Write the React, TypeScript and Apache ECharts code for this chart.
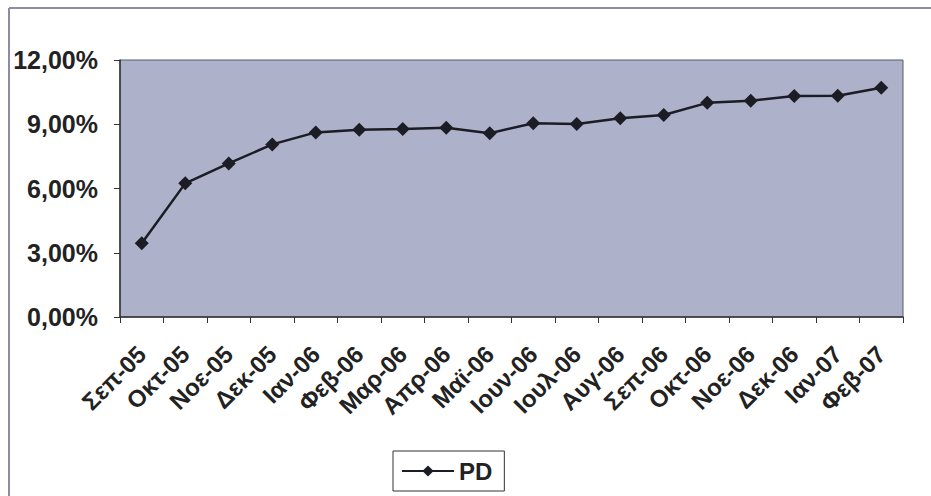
import React, { useEffect, useRef } from "react";
import * as echarts from "echarts";

const categories = [
  "Σεπ-05", "Οκτ-05", "Νοε-05", "Δεκ-05", "Ιαν-06", "Φεβ-06", "Μαρ-06", "Απρ-06", "Μαϊ-06",
  "Ιουν-06", "Ιουλ-06", "Αυγ-06", "Σεπ-06", "Οκτ-06", "Νοε-06", "Δεκ-06", "Ιαν-07", "Φεβ-07",
];
const pdValues = [
  3.44, 6.24, 7.17, 8.06, 8.62, 8.74, 8.78, 8.84, 8.58,
  9.05, 9.01, 9.28, 9.43, 10.0, 10.1, 10.32, 10.33, 10.7,
];
const seriesName = "PD";
const yMin = 0;
const yMax = 12;
const yInterval = 3;

const FONT = "'Liberation Sans', Arial, sans-serif";

export default function App() {
  const ref = useRef<HTMLDivElement>(null);
  useEffect(() => {
    if (!ref.current) return;
    const chart = echarts.init(ref.current, null, { renderer: "svg" });
    chart.setOption({
      animation: false,
      backgroundColor: "#ffffff",
      graphic: [
        { type: "line", shape: { x1: 9, y1: 8, x2: 931, y2: 8 }, style: { stroke: "#8e8ba6", lineWidth: 2 } },
        { type: "line", shape: { x1: 9, y1: 8, x2: 9, y2: 496 }, style: { stroke: "#8e8ba6", lineWidth: 2 } },
      ],
      grid: {
        left: 120,
        top: 60,
        right: 28,
        bottom: 179,
        show: true,
        backgroundColor: "#adb1c9",
        borderColor: "#5a5a6a",
        borderWidth: 1,
        containLabel: false,
      },
      legend: {
        show: true,
        left: 393,
        top: 451,
        orient: "horizontal",
        padding: [8, 12, 8, 8],
        borderColor: "#333333",
        borderWidth: 1,
        itemWidth: 52,
        itemHeight: 14,
        itemGap: 5,
        textStyle: { fontFamily: FONT, fontWeight: "bold", fontSize: 24, color: "#222" },
        data: [seriesName],
      },
      xAxis: {
        type: "category",
        data: categories,
        boundaryGap: true,
        axisLine: { show: true, lineStyle: { color: "#333", width: 1.5 } },
        axisTick: { show: true, interval: 0, length: 6, inside: false, lineStyle: { color: "#333" } },
        axisLabel: {
          interval: 0,
          rotate: 45,
          margin: 33,
          fontFamily: FONT,
          fontWeight: "bold",
          fontSize: 24,
          color: "#222",
        },
        splitLine: { show: false },
      },
      yAxis: {
        type: "value",
        min: yMin,
        max: yMax,
        interval: yInterval,
        axisLine: { show: true, lineStyle: { color: "#333", width: 1.5 } },
        axisTick: { show: true, length: 6, lineStyle: { color: "#333" } },
        splitLine: { show: false },
        axisLabel: {
          margin: 22,
          fontFamily: FONT,
          fontWeight: "bold",
          fontSize: 25,
          color: "#222",
          formatter: (v: number) => v.toFixed(2).replace(".", ",") + "%",
        },
      },
      series: [
        {
          name: seriesName,
          type: "line",
          data: pdValues,
          symbol: "diamond",
          symbolSize: 14,
          lineStyle: { color: "#1c1c24", width: 2.5 },
          itemStyle: { color: "#1c1c24" },
        },
      ],
    });
    return () => chart.dispose();
  }, []);
  return (
    <div
      ref={ref}
      style={{ position: "fixed", left: 0, top: 0, width: 931, height: 496 }}
    />
  );
}
